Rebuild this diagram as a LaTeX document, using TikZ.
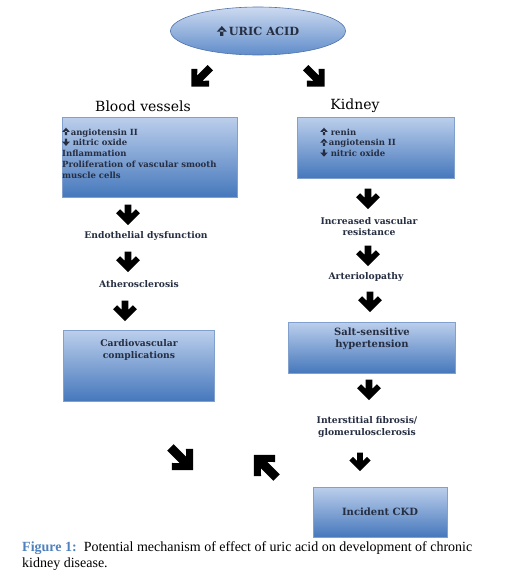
\documentclass[tikz,border=0pt]{standalone}
\usepackage{fontspec}
\setmainfont{DejaVu Serif}
\newfontfamily\capfont{Liberation Serif}
\usetikzlibrary{shapes.geometric}
\definecolor{boxtop}{RGB}{188,207,236}
\definecolor{boxbot}{RGB}{70,120,188}
\definecolor{boxedge}{RGB}{130,160,205}
\definecolor{elltop}{RGB}{205,218,240}
\definecolor{ellbot}{RGB}{95,140,202}
\definecolor{elledge}{RGB}{80,115,170}
\definecolor{txt}{RGB}{38,46,66}
\definecolor{figblue}{RGB}{79,129,189}
\tikzset{
  gbox/.style={rectangle, top color=boxtop, bottom color=boxbot, draw=boxedge, line width=0.6pt, inner sep=0pt},
  btxt/.style={font=\bfseries\fontsize{9.2}{11.5}\selectfont, text=txt, align=center, inner sep=0pt},
  bigtxt/.style={font=\bfseries\fontsize{10}{12}\selectfont, text=txt, align=center, inner sep=0pt},
  ltxt/.style={font=\bfseries\fontsize{8.5}{10.8}\selectfont, text=txt, align=left, inner sep=0pt},
  headtxt/.style={font=\fontsize{14}{16}\selectfont, inner sep=0pt},
  barrow/.pic={
    \fill (-3.5,-11) -- (3.5,-11) -- (3.5,-1.2) -- (8.3,-6) -- (12.5,-1.8) -- (0,10.7)
          -- (-12.5,-1.8) -- (-8.3,-6) -- (-3.5,-1.2) -- cycle;
  },
  darrow/.pic={
    \fill (-3.8,-16) -- (3.8,-16) -- (3.8,-1.2) -- (8.3,-6) -- (12.5,-1.8) -- (0,10.7)
          -- (-12.5,-1.8) -- (-8.3,-6) -- (-3.8,-1.2) -- cycle;
  }
}
\newsavebox\upbox
\newsavebox\dnbox
\newsavebox\bigupbox
% arrow glyph: #1 stem half width, #2 stem height, #3 head half width, #4 head base, #5 tip
\newcommand{\mkup}[5]{\begin{pgfpicture}\color{txt}%
  \pgfpathrectangle{\pgfpoint{-#1pt}{0pt}}{\pgfpoint{2*#1pt}{#2pt}}%
  \pgfpathmoveto{\pgfpoint{-#3pt}{#4pt}}\pgfpathlineto{\pgfpoint{0pt}{#5pt}}\pgfpathlineto{\pgfpoint{#3pt}{#4pt}}\pgfpathclose
  \pgfusepath{fill}\end{pgfpicture}}
\newcommand{\mkdn}[5]{\begin{pgfpicture}\color{txt}%
  \pgfpathrectangle{\pgfpoint{-#1pt}{#5pt-#2pt}}{\pgfpoint{2*#1pt}{#2pt}}%
  \pgfpathmoveto{\pgfpoint{-#3pt}{#5pt-#4pt}}\pgfpathlineto{\pgfpoint{0pt}{0pt}}\pgfpathlineto{\pgfpoint{#3pt}{#5pt-#4pt}}\pgfpathclose
  \pgfusepath{fill}\end{pgfpicture}}
\begin{document}
\sbox\upbox{\mkup{1.2}{4.2}{3.8}{3.2}{7.4}}%
\sbox\dnbox{\mkdn{1.2}{4.2}{3.8}{3.2}{7.4}}%
\sbox\bigupbox{\mkup{1.6}{5.6}{5}{4.2}{9.8}}%
\begin{tikzpicture}[x=1pt,y=-1pt]
\useasboundingbox (0,0) rectangle (506,579);
% top ellipse
\node[ellipse, top color=elltop, bottom color=ellbot, draw=elledge, line width=0.6pt,
      minimum width=175pt, minimum height=48pt, inner sep=0pt,
      font=\bfseries\fontsize{11.3}{13}\selectfont, text=txt] (uric) at (258,31) {\usebox\bigupbox\kern2pt URIC ACID};
% top diagonal arrows
\pic[rotate=-45, scale=1.0] at (199,79) {darrow};
\pic[rotate=45, scale=1.0] at (317,79) {darrow};
% headings
\node[headtxt] (bv) at (143,106) {Blood vessels};
\node[headtxt] (kid) at (355,106) {Kidney};
% left box
\node[gbox, minimum width=175pt, minimum height=80pt] (lbox) at (149.5,157) {};
\node[ltxt, anchor=north west] (ltext) at (62,127.5) {\usebox\upbox\kern1pt angiotensin II\\ \usebox\dnbox\ nitric oxide\\ Inflammation\\ Proliferation of vascular smooth\\ muscle cells};
% right box
\node[gbox, minimum width=157pt, minimum height=61pt] (rbox) at (375.5,147.5) {};
\node[ltxt, anchor=north west] (rtext) at (320,127.5) {\usebox\upbox\ renin\\ \usebox\upbox\kern1pt angiotensin II\\ \usebox\dnbox\ nitric oxide};
% left column
\pic[scale=0.95] at (128,215) {barrow};
\node[btxt] (endo) at (146,236) {Endothelial dysfunction};
\pic[scale=0.95] at (128,262) {barrow};
\node[btxt] (ath) at (139,284) {Atherosclerosis};
\pic[scale=0.95] at (125,311) {barrow};
\node[gbox, minimum width=151pt, minimum height=71pt] (cvbox) at (138.5,365.5) {};
\node[btxt] (cv) at (139,350) {Cardiovascular\\ complications};
% right column
\pic[scale=0.95] at (368,199) {barrow};
\node[btxt] (ivr) at (369,226.5) {Increased vascular\\ resistance};
\pic[scale=0.95] at (368,256) {barrow};
\node[btxt] (art) at (366,277) {Arteriolopathy};
\pic[scale=0.95] at (370,302) {barrow};
\node[gbox, minimum width=167pt, minimum height=51pt] (sshbox) at (371.5,347.5) {};
\node[bigtxt] (ssh) at (372,339) {Salt-sensitive\\ hypertension};
\pic[scale=0.95] at (369,390) {barrow};
\node[btxt] (fib) at (367,427) {Interstitial fibrosis/\\ glomerulosclerosis};
\pic[scale=0.85] at (360,462) {barrow};
\node[gbox, minimum width=134pt, minimum height=50pt] (ckdbox) at (380,512) {};
\node[bigtxt] (ckd) at (380,512) {Incident CKD};
% bottom diagonal arrows
\pic[rotate=45, scale=1.2] at (184,461) {darrow};
\pic[rotate=-135, scale=1.2] at (263,464) {darrow};
% caption
\node[anchor=base west, inner sep=0pt, font=\capfont\fontsize{14}{16}\selectfont] (cap1) at (22,551)
  {{\color{figblue}\bfseries Figure 1:}\ \ Potential mechanism of effect of uric acid on development of chronic};
\node[anchor=base west, inner sep=0pt, font=\capfont\fontsize{14}{16}\selectfont] (cap2) at (22,567)
  {kidney disease.};
\end{tikzpicture}
\end{document}
